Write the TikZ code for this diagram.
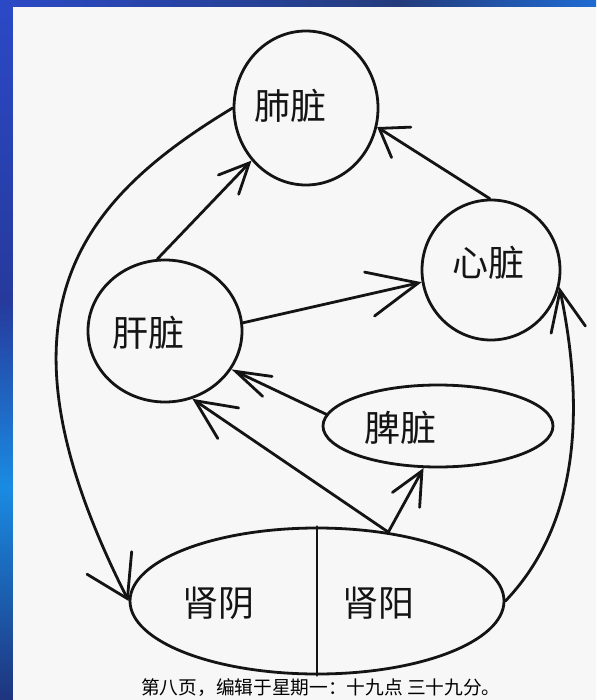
\documentclass[tikz,border=0pt]{standalone}
\usepackage{fontspec}
\newfontfamily\cjk{Noto Sans CJK SC}
\usetikzlibrary{shapes.geometric,arrows.meta}
\definecolor{ink}{HTML}{141414}
\definecolor{paper}{HTML}{F7F7F7}
\definecolor{bA}{HTML}{2B49C6}
\definecolor{bB}{HTML}{243C7C}
\definecolor{bC}{HTML}{1F6BD2}
\definecolor{bD}{HTML}{263A9C}
\definecolor{bE}{HTML}{1A8BE2}
\definecolor{bF}{HTML}{1E347E}
\begin{document}
\begin{tikzpicture}[x=1pt,y=-1pt,
  organ/.style={draw=ink, line width=2.8pt, ellipse, inner sep=0pt},
  lbl/.style={font=\cjk\fontsize{36}{36}\selectfont, text=ink, inner sep=0pt},
  link/.style={draw=ink, line width=2.8pt, line cap=round, line join=round},
  arr/.style 2 args={-{Straight Barb[length=#1pt,width=#2pt,line cap=round]}}
]
\useasboundingbox (0,0) rectangle (596,700);
% background frame
\fill[bA] (0,0) rectangle (596,700);
\shade[left color=bA, right color=bB] (0,0) rectangle (400,7);
\shade[left color=bB, right color=bC] (400,0) rectangle (596,7);
\shade[top color=bA, bottom color=bD] (0,7) rectangle (13,300);
\shade[top color=bD, bottom color=bE] (0,300) rectangle (13,487);
\shade[top color=bE, bottom color=bF] (0,487) rectangle (13,700);
\fill[paper] (13,7) rectangle (596,700);

% organs
\node[organ, minimum width=144pt, minimum height=154pt] (fei) at (306,108) {};
\node[organ, minimum width=138pt, minimum height=140pt] (xin) at (491,270) {};
\node[organ, minimum width=154pt, minimum height=142pt] (gan) at (165,331) {};
\node[organ, minimum width=230pt, minimum height=82pt] (pi) at (438,426) {};
\node[organ, minimum width=374pt, minimum height=146pt] (shen) at (317,601) {};
\draw[link] (shen.north) -- (shen.south);

% labels
\node[lbl] (tfei) at (290,106) {肺脏};
\node[lbl] (txin) at (488,263) {心脏};
\node[lbl] (tgan) at (148,333) {肝脏};
\node[lbl] (tpi) at (400,428) {脾脏};
\node[lbl] (tyin) at (218,603) {肾阴};
\node[lbl] (tyang) at (378,603) {肾阳};

% connectors
\draw[link, arr={30}{28}] (gan.96) -- (fei.224);
\draw[link, arr={26}{36}] (xin.91) -- (fei.345);
\draw[link, arr={50}{45}] (gan.6) -- (xin.190);
\draw[link, arr={35}{22}] (pi.174) -- (gan.330);
\draw[link, arr={40}{37}] (shen.44) -- (gan.292);
\draw[link, arr={33}{31}] (shen.44) -- (pi.251);
\draw[link, arr={40}{50}] (fei.180) .. controls (77,202) and (-16,315) .. (shen.west);
\draw[link, arr={40}{35}] (shen.east) .. controls (581,522) and (584,405) .. (xin.346);

% footer
\node[font=\cjk\fontsize{18.7}{18.7}\selectfont, text=black, anchor=west, inner sep=0pt] (foot) at (141,688) {第八页，编辑于星期一：十九点 三十九分。};
\end{tikzpicture}
\end{document}
